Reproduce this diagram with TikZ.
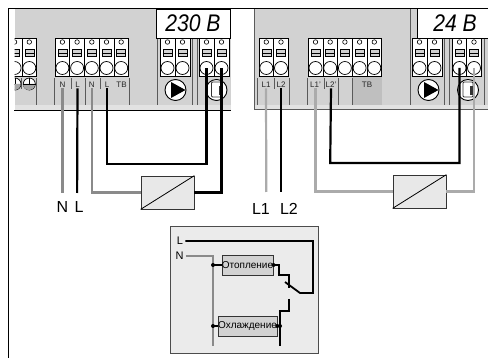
\documentclass[tikz,border=0pt]{standalone}
\usepackage{fontspec}
\setmainfont{Liberation Sans}
\definecolor{panelgrey}{HTML}{D2D2D2}
\definecolor{stripgrey}{HTML}{E2E2E2}
\definecolor{edgegrey}{HTML}{5A5A5A}
\definecolor{wiregrey}{HTML}{8A8A8A}
\definecolor{palegrey}{HTML}{ABABAB}
\definecolor{boxgrey}{HTML}{E8E8E8}

\tikzset{
  clampbox/.style={draw=black,fill=white,line width=.7pt,minimum width=14.7pt,minimum height=38pt,inner sep=0pt},
  clamphole/.style={circle,draw=black,fill=white,line width=.6pt,minimum size=4.5pt,inner sep=0pt},
  clampbar/.style={draw=black,fill=panelgrey,line width=.6pt,minimum width=9pt,minimum height=7pt,inner sep=0pt},
  clampscrew/.style={circle,draw=black,fill=white,line width=.7pt,minimum size=13pt,inner sep=0pt},
  tinylabel/.style={font=\fontsize{8}{8}\selectfont,text=black!85,inner sep=.5pt,text height=5.5pt,text depth=0pt},
  wirelabel/.style={font=\fontsize{16}{16}\selectfont,inner sep=0pt},
  voltage/.style={draw=black,fill=white,line width=.7pt,inner sep=0pt,font=\fontsize{24}{24}\selectfont\itshape},
  blackwire/.style={draw=black,line width=2.2pt},
  greywire/.style={draw=wiregrey,line width=2.4pt},
  palewire/.style={draw=palegrey,line width=2.2pt},
  divider/.style={draw=edgegrey,line width=.8pt},
  converter/.style={draw=black!80,fill=boxgrey,line width=.7pt,minimum width=53pt,minimum height=33pt,inner sep=0pt},
  relay/.style={draw=black!80,fill=panelgrey,line width=.7pt,minimum width=51pt,minimum height=20pt,inner sep=0pt,font=\fontsize{10}{10}\selectfont},
  junction/.style={circle,fill=black,minimum size=4pt,inner sep=0pt}
}

\newcommand{\clamp}[2]{%
  \node[clampbox] (#1) at (#2,57) {};
  \node[clamphole] (#1h) at (#2,42) {};
  \node[clampbar] (#1b) at (#2,53) {};
  \draw[line width=.6pt] (#1b.west) -- (#1b.east);
  \node[clampscrew] (#1c) at (#2,68) {};
}
\newcommand{\pumpsign}[2]{%
  \node[circle,draw=black,fill=white,line width=.9pt,minimum size=21pt,inner sep=0pt] (#1) at (#2,90) {};
  \fill[black] ([xshift=-4.5pt,yshift=8pt]#1.center) -- ([xshift=10pt]#1.center) -- ([xshift=-4.5pt,yshift=-8pt]#1.center) -- cycle;
}
\newcommand{\mixersign}[2]{%
  \node[circle,draw=black,fill=white,line width=.9pt,minimum size=21pt,inner sep=0pt] (#1) at (#2,90) {};
  \draw[black!80,fill=white,line width=.8pt,rounded corners=1pt] ([xshift=-5pt,yshift=-7pt]#1.center) rectangle ([xshift=5pt,yshift=8pt]#1.center);
  \fill[black!80] ([xshift=2pt,yshift=-5pt]#1.center) rectangle ([xshift=5pt,yshift=4pt]#1.center);
}

\begin{document}
\begin{tikzpicture}[x=1pt,y=-1pt]
  \useasboundingbox (0,0) rectangle (488,358);

  % housings
  \fill[stripgrey] (15,9) rectangle (231,111);
  \fill[panelgrey] (15,9) rectangle (231,105);
  \fill[stripgrey] (254,9) rectangle (488,110);
  \fill[panelgrey] (254,9) rectangle (488,105);
  \draw[line width=1pt] (8,358) -- (8,8.5) -- (488,8.5);
  \draw[line width=1pt] (14,111) -- (231,111);
  \draw[edgegrey,line width=1pt] (254,9) -- (254,110) -- (488,110);

  % dividers, left
  \draw[divider] (54.5,78) -- (54.5,105);
  \draw[divider] (71,78) -- (71,89);
  \draw[divider] (85.5,78) -- (85.5,105);
  \draw[divider] (100,78) -- (100,89);
  \draw[divider] (129,78) -- (129,105);
  \draw[divider] (36.5,78) -- (36.5,105);
  \draw[divider] (21.5,78) -- (21.5,89);
  \draw[divider] (157,9) -- (157,105);
  \draw[divider] (192,9) -- (192,105);
  \draw[divider] (197,9) -- (197,105);
  % dividers, right
  \fill[black!25] (352,77) rectangle (382,105);
  \draw[divider] (257.5,78) -- (257.5,105);
  \draw[divider] (274,78) -- (274,89);
  \draw[divider] (289.5,78) -- (289.5,105);
  \draw[divider] (307,78) -- (307,105);
  \draw[divider] (324,78) -- (324,89);
  \draw[divider] (338,78) -- (338,105);
  \draw[divider] (352,78) -- (352,105);
  \draw[divider] (410,9) -- (410,105);
  \draw[divider] (444,9) -- (444,105);
  \draw[divider] (449,9) -- (449,105);
  \draw[divider] (484,9) -- (484,105);

  % terminals, left
  \begin{scope}
    \clip (14.5,30) rectangle (60,110);
    \clamp{a1}{14.6}
    \node[circle,draw=black,fill=white,line width=.7pt,minimum size=12pt,inner sep=0pt] (e1) at (15,84) {};
    \draw[line width=.6pt] (e1.west) -- (e1.east);
    \draw[line width=.6pt] (e1.center) -- (e1.north);
    \fill[black!35] (e1.west) arc[start angle=180,end angle=360,radius=6pt] -- cycle;
  \end{scope}
  \clamp{a2}{29.3}
  \clamp{b1}{62.4}
  \clamp{b2}{77.1}
  \clamp{b3}{91.8}
  \clamp{b4}{106.5}
  \clamp{b5}{121.2}
  \clamp{c1}{167.5}
  \clamp{c2}{182.5}
  \clamp{d1}{206.5}
  \clamp{d2}{221.5}
  % terminals, right
  \clamp{f1}{266.3}
  \clamp{f2}{281}
  \clamp{g1}{315.5}
  \clamp{g2}{330.2}
  \clamp{g3}{344.9}
  \clamp{g4}{359.6}
  \clamp{g5}{374.3}
  \clamp{h1}{419.5}
  \clamp{h2}{434.5}
  \clamp{k1}{459.5}
  \clamp{k2}{474}

  % earth, pump and mixer signs
  \node[circle,draw=black,fill=white,line width=.7pt,minimum size=12pt,inner sep=0pt] (e2) at (29.3,84) {};
  \fill[black!35] (e2.west) arc[start angle=180,end angle=360,radius=6pt] -- cycle;
  \draw[line width=.6pt] (e2.west) -- (e2.east);
  \draw[line width=.6pt] (e2.center) -- (e2.north);
  \pumpsign{p1}{175.5}
  \pumpsign{p2}{428.5}
  \mixersign{m1}{216.5}
  \mixersign{m2}{468}

  % terminal texts
  \begin{scope}[every node/.style={tinylabel}]
    \node (tN)  at (62.4,85)  {N};
    \node (tL)  at (77.5,85)  {L};
    \node (tN2) at (91.8,85)  {N};
    \node (tL2) at (107,85)   {L};
    \node (tTB) at (121.5,85) {TB};
    \node (tL1) at (266,85)   {L1};
    \node (tL3) at (281,85)   {L2};
    \node (tA)  at (315.5,85) {L1'};
    \node (tB)  at (331,85)   {L2'};
    \node (tTC) at (367,85)   {TB};
  \end{scope}

  % voltage plates
  \node[voltage,minimum width=74pt,minimum height=29pt] (v1) at (193,23.5) {\scalebox{.88}[1]{230 В}};
  \fill[white] (417,9) rectangle (488,38);
  \node[inner sep=0pt,font=\fontsize{24}{24}\selectfont\itshape] (v2) at (455,23.5) {\scalebox{.88}[1]{24 В}};
  \draw[line width=.7pt] (488,38) -- (417,38) -- (417,9);

  % converters
  \node[converter] (c1) at (167.5,192.5) {};
  \node[converter] (c2) at (419.5,191.5) {};
  \draw[line width=.8pt] (c1.south west) -- (c1.north east);
  \draw[line width=.8pt] (c2.south west) -- (c2.north east);

  % free ends and corners
  \coordinate (endN)  at (62.4,193);
  \coordinate (endL)  at (77.1,193);
  \coordinate (endL1) at (266.3,192);
  \coordinate (endL2) at (281,192);
  \coordinate (run1)  at (107,164);
  \coordinate (run2)  at (330.2,163);

  % wires
  \path[greywire] (tN.south) -- (endN);
  \path[blackwire] (tL.south) -- (endL);
  \path[greywire] (tN2.south) |- (c1.west);
  \path[blackwire] (tL2.south) -- (run1) -| (d1c.center);
  \path[blackwire] (d2c.center) |- (c1.east);
  \path[palewire] (tL1.south) -- (endL1);
  \path[blackwire] (tL3.south) -- (endL2);
  \path[palewire] (tA.south) |- (c2.west);
  \path[blackwire] (tB.south) -- (run2) -| (k1c.center);
  \path[palewire] (k2c.center) |- (c2.east);

  \node[wirelabel] (labN)  at (62.5,207) {N};
  \node[wirelabel] (labL)  at (79,207)   {L};
  \node[wirelabel] (labL1) at (261,209)  {L1};
  \node[wirelabel] (labL2) at (289,209)  {L2};

  % room controller
  \node[draw=black!70,fill=black!8,line width=1pt,minimum width=148pt,minimum height=127pt,inner sep=0pt] (frame) at (244,290.5) {};
  \node[font=\fontsize{11}{11}\selectfont,inner sep=0pt] (inL) at (180,241) {L};
  \node[font=\fontsize{11}{11}\selectfont,inner sep=0pt] (inN) at (179.5,256) {N};
  \node[relay] (heat) at (247.5,265) {Отопление};
  \node[relay] (cool) at (247.5,326) {Охлаждение};

  \coordinate (nLow)  at (213,346);
  \coordinate (lTurn) at (313,293);
  \coordinate (contA) at (300,293);
  \coordinate (contB) at (285,282);
  \coordinate (stepA) at (279,265);
  \coordinate (stepB) at (279,275);
  \coordinate (stepC) at (289,275);
  \coordinate (stepD) at (289,288);
  \coordinate (fixA)  at (289,299);
  \coordinate (fixB)  at (289,311);
  \coordinate (fixC)  at (280,311);
  \coordinate (fixD)  at (280,346);
  \coordinate (nHeat) at (213,265);
  \coordinate (nCool) at (213,326);
  \coordinate (lCool) at (280,326);

  \begin{scope}[line width=1.8pt]
    \draw[wiregrey] (inN.east) ++(2pt,0) -- (213,256) -- (nLow);
    \draw (inL.east) ++(2pt,0) -| (lTurn) -- (contA) -- (contB);
    \draw (nHeat) -- (heat.west);
    \draw (nCool) -- (cool.west);
    \draw (heat.east) -- (stepA) -- (stepB) -- (stepC) -- (stepD);
    \draw (fixA) -- (fixB) -- (fixC) -- (fixD);
    \draw (cool.east) -- (lCool);
  \end{scope}
  \node[junction] (d1) at (nHeat) {};
  \node[junction] (d2) at (nCool) {};
  \node[junction] (d3) at (heat.east) {};
  \node[junction] (d4) at (cool.east) {};
  \node[junction] (d5) at (lCool) {};
\end{tikzpicture}
\end{document}
